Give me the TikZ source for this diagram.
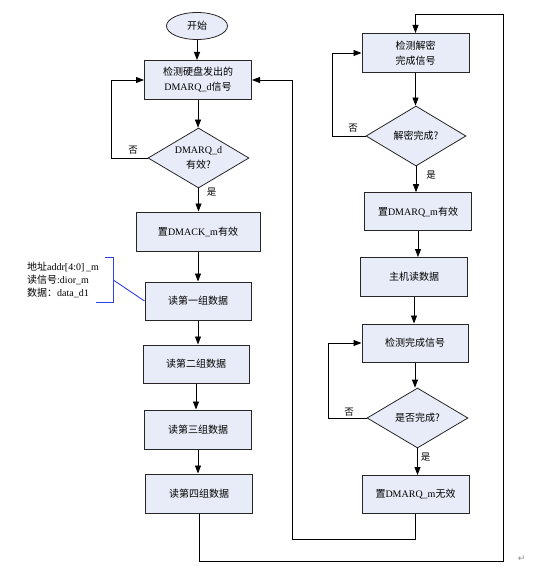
\documentclass[tikz,border=0pt]{standalone}
\usepackage{fontspec}
\setmainfont{Liberation Serif}
\newfontfamily\cjk{Noto Sans CJK SC}
\newfontfamily\dejavu{DejaVu Sans}
\newcommand\zhs[1]{{\cjk #1}}
\usetikzlibrary{shapes.geometric,arrows.meta}
\definecolor{boxfill}{HTML}{E8ECF8}
\definecolor{boxline}{HTML}{262626}
\definecolor{annblue}{HTML}{3040E8}
\begin{document}
\begin{tikzpicture}[x=1pt,y=-1pt,
  every node/.style={font=\fontsize{10}{15}\selectfont},
  procbox/.style={draw=boxline,fill=boxfill,line width=1pt,rectangle,inner sep=0pt,align=center},
  decbox/.style={draw=boxline,fill=boxfill,line width=0.8pt,diamond,aspect=1.68,inner sep=0pt,minimum width=101pt,minimum height=60pt,align=center},
  termbox/.style={draw=boxline,fill=boxfill,line width=0.8pt,ellipse,inner sep=0pt,minimum width=61pt,minimum height=27pt},
  arr/.style={draw=black,line width=0.8pt,-{Triangle[length=8pt,width=6pt]}},
  plain/.style={draw=black,line width=0.8pt},
  lbl/.style={font=\fontsize{9.5}{11}\selectfont,inner sep=0pt}]
\useasboundingbox (0,0) rectangle (550,567);
% left column
\node[termbox] (start) at (197,26) {\zhs{开始}};
\node[procbox,minimum width=107pt,minimum height=39pt] (b1) at (198,80) {\zhs{检测硬盘发出的}\\DMARQ\_d\zhs{信号}};
\node[decbox] (d1) at (198.5,158) {DMARQ\_d\\\zhs{有效?}};
\node[procbox,minimum width=124pt,minimum height=39pt] (b2) at (198,231.5) {\zhs{置}DMACK\_m\zhs{有效}};
\node[procbox,minimum width=106pt,minimum height=38pt] (b3) at (198,301) {\zhs{读第一组数据}};
\node[procbox,minimum width=106pt,minimum height=38pt] (b4) at (196,364) {\zhs{读第二组数据}};
\node[procbox,minimum width=107pt,minimum height=39pt] (b5) at (198,429.5) {\zhs{读第三组数据}};
\node[procbox,minimum width=107pt,minimum height=39pt] (b6) at (199,493.5) {\zhs{读第四组数据}};
% right column
\node[procbox,minimum width=107pt,minimum height=39pt] (b7) at (415.5,53) {\zhs{检测解密}\\\zhs{完成信号}};
\node[decbox,minimum width=100pt] (d2) at (416,136) {\zhs{解密完成?}};
\node[procbox,minimum width=107pt,minimum height=38pt] (b8) at (418,211.7) {\zhs{置}DMARQ\_m\zhs{有效}};
\node[procbox,minimum width=107pt,minimum height=39pt] (b9) at (414,277) {\zhs{主机读数据}};
\node[procbox,minimum width=106pt,minimum height=38pt] (b10) at (415,343) {\zhs{检测完成信号}};
\node[decbox] (d3) at (417.5,418) {\zhs{是否完成?}};
\node[procbox,minimum width=107pt,minimum height=38pt] (b11) at (415.5,494.5) {\zhs{置}DMARQ\_m\zhs{无效}};
% annotation
\node[align=left,anchor=west,inner sep=0pt,font=\fontsize{10}{13}\selectfont] (ann) at (27,280) {\zhs{地址}addr[4:0]\,\_m\\\zhs{读信号}:dior\_m\\\zhs{数据：}data\_d1};
\coordinate (brt) at (105,257);
\coordinate (brm) at (113.3,280);
\coordinate (brb) at (95.7,302);
\draw[annblue,line width=0.9pt] (brt) -- (113.3,257) -- (113.3,302) -- (brb);
\draw[annblue,line width=0.9pt] (brm) -- (b3.west);
% vertical flow arrows
\draw[arr] (start.south) -- (start.south |- b1.north);
\draw[arr] (b1.south) -- (b1.south |- d1.north);
\draw[arr] (d1.south) -- (d1.south |- b2.north);
\draw[arr] (b2.south) -- (b2.south |- b3.north);
\draw[arr] (b3.south) -- (b3.south |- b4.north);
\draw[arr] (b4.south) -- (b4.south |- b5.north);
\draw[arr] (b5.south) -- (b5.south |- b6.north);
\draw[arr] (b7.south) -- (b7.south |- d2.north);
\draw[arr] (d2.south) -- (d2.south |- b8.north);
\draw[arr] (b8.south) -- (b8.south |- b9.north);
\draw[arr] (b9.south) -- (b9.south |- b10.north);
\draw[arr] (b10.south) -- (b10.south |- d3.north);
\draw[arr] (d3.south) -- (d3.south |- b11.north);
% loops
\coordinate (l1) at (111.7,158);
\draw[arr] (d1.west) -- (l1) |- (b1.west);
\coordinate (l2) at (332.7,136);
\draw[arr] (d2.west) -- (l2) |- (b7.west);
\coordinate (l3) at (328.3,418);
\draw[arr] (d3.west) -- (l3) |- (b10.west);
% long connectors
\coordinate (o1) at (199,561.7);
\coordinate (o2) at (503,561.7);
\coordinate (o3) at (503,14.3);
\coordinate (o4) at (415.5,14.3);
\draw[arr] (b6.south) -- (o1) -- (o2) -- (o3) -- (o4) -- (b7.north);
\coordinate (i1) at (415.5,539);
\coordinate (i2) at (292.7,539);
\coordinate (i3) at (292.7,80);
\draw[arr] (b11.south) -- (i1) -- (i2) -- (i3) -- (b1.east);
% labels
\node[lbl] (n1) at (133,150) {\zhs{否}};
\node[lbl] (y1) at (211.7,192) {\zhs{是}};
\node[lbl] (n2) at (353,127.7) {\zhs{否}};
\node[lbl] (y2) at (431,175) {\zhs{是}};
\node[lbl] (n3) at (349,411.7) {\zhs{否}};
\node[lbl] (y3) at (425.7,457) {\zhs{是}};
\node[inner sep=0pt,text=black!45,font=\dejavu\fontsize{9}{10}\selectfont] (pm) at (521.7,559) {↵};
\end{tikzpicture}
\end{document}
